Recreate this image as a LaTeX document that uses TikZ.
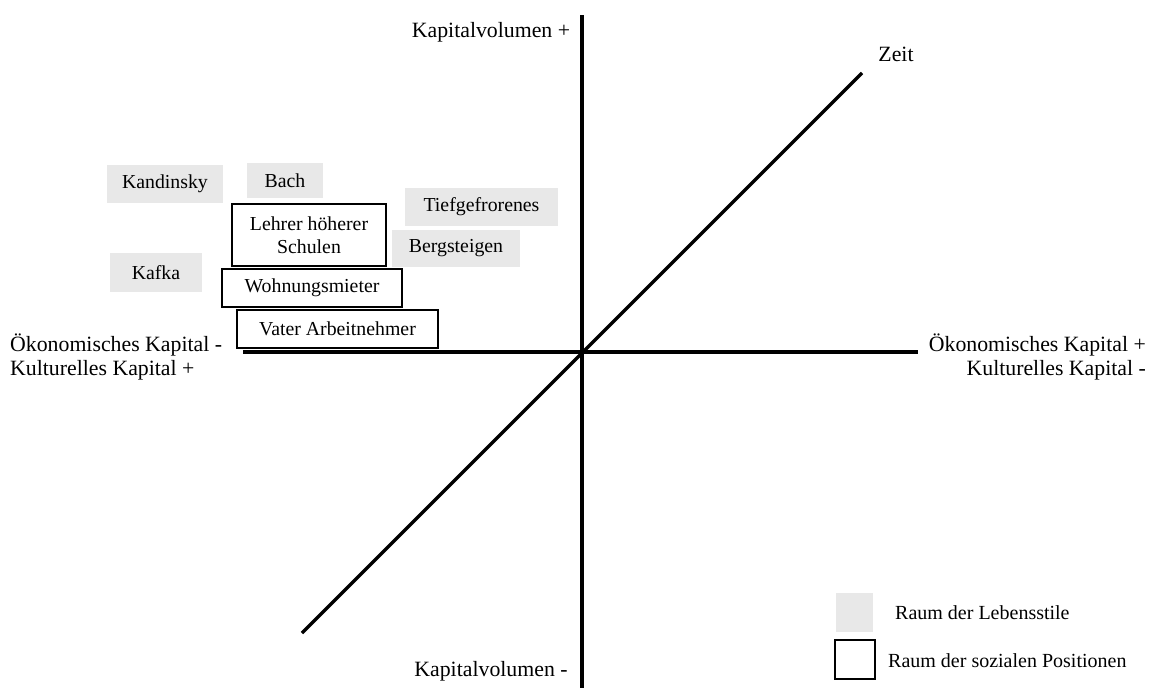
\documentclass[tikz,border=0pt]{standalone}
\usepackage{fontspec}
\setmainfont{Liberation Serif}
\begin{document}
\begin{tikzpicture}[x=1pt,y=-1pt,
  axis/.style={line width=3.2pt, black},
  axislabel/.style={font=\fontsize{21.8}{25}\selectfont, inner sep=0pt},
  lifestyle/.style={fill=gray!18, draw=none, inner sep=0pt, font=\fontsize{19.8}{23}\selectfont},
  position/.style={fill=white, draw=black, line width=2.4pt, inner sep=0pt, font=\fontsize{19.8}{23}\selectfont, align=center},
  legendtext/.style={font=\fontsize{20}{23}\selectfont, inner sep=0pt, anchor=west}]
\useasboundingbox (0,0) rectangle (1152,688);

% axes
\coordinate (vtop) at (582,15);
\coordinate (vbot) at (582,688);
\coordinate (hleft) at (243,352);
\coordinate (hright) at (918,352);
\coordinate (dlow) at (302,633);
\coordinate (dhigh) at (862,73);
\draw[axis] (vtop) -- (vbot);
\draw[axis] (hleft) -- (hright);
\draw[axis] (dlow) -- (dhigh);

% axis labels
\node[axislabel] (kvplus) at (491,32) {Kapitalvolumen +};
\node[axislabel] (kvminus) at (491,671) {Kapitalvolumen -};
\node[axislabel] (zeit) at (896,54) {Zeit};
\node[axislabel, anchor=west] (oekminus) at (10,345) {Ökonomisches Kapital -};
\node[axislabel, anchor=west] (kulplus) at (10,370) {Kulturelles Kapital +};
\node[axislabel, anchor=east] (oekplus) at (1146,345) {Ökonomisches Kapital +};
\node[axislabel, anchor=east] (kulminus) at (1146,370) {Kulturelles Kapital -};

% space of lifestyles
\node[lifestyle, minimum width=116pt, minimum height=38pt] (kandinsky) at (165,184) {Kandinsky};
\node[lifestyle, minimum width=76pt, minimum height=35pt] (bach) at (285,180.5) {Bach};
\node[lifestyle, minimum width=153pt, minimum height=38pt] (tiefgefrorenes) at (481.5,207) {Tiefgefrorenes};
\node[lifestyle, minimum width=128pt, minimum height=37pt] (bergsteigen) at (456,248.5) {Bergsteigen};
\node[lifestyle, minimum width=92pt, minimum height=39pt] (kafka) at (156,272.5) {Kafka};

% space of social positions
\node[position, minimum width=154pt, minimum height=62pt] (lehrer) at (309,235) {Lehrer höherer\\Schulen};
\node[position, minimum width=180pt, minimum height=38pt] (mieter) at (312,288) {Wohnungsmieter};
\node[position, minimum width=201pt, minimum height=38pt] (vater) at (337.5,329) {Vater Arbeitnehmer};

% legend
\node[lifestyle, minimum width=37pt, minimum height=39pt] (leggray) at (854.5,612.5) {};
\node[position, minimum width=40pt, minimum height=39pt] (legbox) at (855,659.5) {};
\node[legendtext] (legtextA) at (895,613) {Raum der Lebensstile};
\node[legendtext] (legtextB) at (888,661) {Raum der sozialen Positionen};
\end{tikzpicture}
\end{document}
